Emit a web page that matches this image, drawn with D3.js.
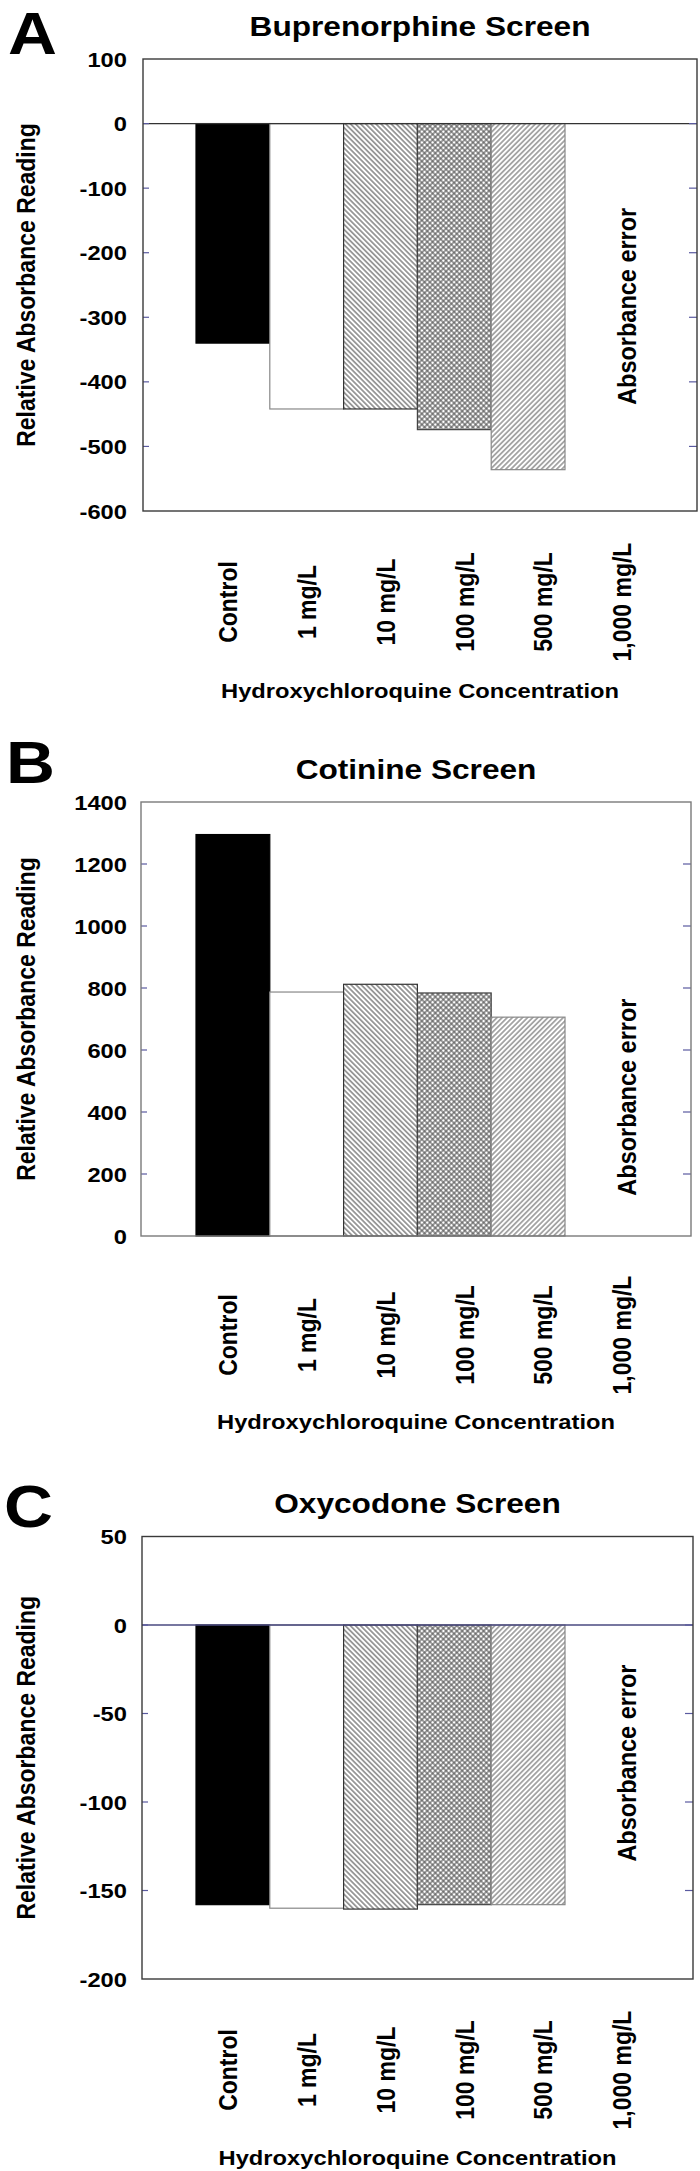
<!DOCTYPE html>
<html><head><meta charset="utf-8">
<script src="https://cdn.jsdelivr.net/npm/d3@7"></script>
<style>
body{margin:0;background:#fff}
svg{display:block}
text{font-family:"Liberation Sans",Arial,sans-serif;font-weight:bold;fill:#000}
</style>
</head><body><div id="chart"></div>
<script>
// ---------- data ----------
const categories = ["Control", "1 mg/L", "10 mg/L", "100 mg/L", "500 mg/L", "1,000 mg/L"];
const buprenorphineValues = [-340, -442, -442, -474, -536, null];
const cotinineValues = [1295, 787, 812, 784, 706, null];
const oxycodoneValues = [-158, -160, -160.5, -158, -158, null];
const buprenorphineTicks = [100, 0, -100, -200, -300, -400, -500, -600];
const cotinineTicks = [1400, 1200, 1000, 800, 600, 400, 200, 0];
const oxycodoneTicks = [50, 0, -50, -100, -150, -200];
const panelLetters = ["A", "B", "C"];
const panelTitles = ["Buprenorphine Screen", "Cotinine Screen", "Oxycodone Screen"];
const yAxisTitle = "Relative Absorbance Reading";
const xAxisTitle = "Hydroxychloroquine Concentration";
const errorNote = "Absorbance error";
const errorCategory = "1,000 mg/L";

// ---------- layout / style ----------
const W = 700, H = 2171, SX = 1.13;
const panels = [
  {letter: panelLetters[0], title: panelTitles[0], values: buprenorphineValues, ticks: buprenorphineTicks,
   top: 59, bottom: 511, left: 143, right: 697, letterBase: 54, letterX: 8, errAt: -283,
   labelOff: 91, xTitleOff: 187, titleBase: 36, border: "#3a3a3a", zero: "#333"},
  {letter: panelLetters[1], title: panelTitles[1], values: cotinineValues, ticks: cotinineTicks,
   top: 802, bottom: 1236, left: 141, right: 691, letterBase: 783, letterX: 6, errAt: 448,
   labelOff: 99, xTitleOff: 193, titleBase: 779, border: "#7a7a7a", zero: null},
  {letter: panelLetters[2], title: panelTitles[2], values: oxycodoneValues, ticks: oxycodoneTicks,
   top: 1536.5, bottom: 1979, left: 142, right: 693, letterBase: 1527, letterX: 4, errAt: -78,
   labelOff: 91, xTitleOff: 186, titleBase: 1513, border: "#3a3a3a", zero: "#4a4a80"}
];
const barStyles = [
  {fill: "#000", stroke: "#000"},
  {fill: "#fff", stroke: "#888"},
  {fill: "url(#hatchB)", stroke: "#333"},
  {fill: "url(#cross)", stroke: "#444"},
  {fill: "url(#hatchF)", stroke: "#888"},
  {fill: "none", stroke: "none"}
];
const tickColor = "#5a5aa0";

const svg = d3.select("#chart").append("svg").attr("width", W).attr("height", H);
svg.append("rect").attr("width", W).attr("height", H).attr("fill", "#fff");

// patterns
const defs = svg.append("defs");
function hatch(id, angle, color, size) {
  const p = defs.append("pattern").attr("id", id).attr("patternUnits", "userSpaceOnUse")
    .attr("width", size).attr("height", size).attr("patternTransform", `rotate(${angle})`);
  p.append("rect").attr("width", size).attr("height", size).attr("fill", "#fff");
  p.append("line").attr("x1", size / 2).attr("x2", size / 2).attr("y1", 0).attr("y2", size)
    .attr("stroke", color).attr("stroke-width", 1.1);
  return p;
}
hatch("hatchB", -45, "#555", 3.6);
hatch("hatchF", 45, "#6a6a6a", 3.6);
const cp = defs.append("pattern").attr("id", "cross").attr("patternUnits", "userSpaceOnUse")
  .attr("width", 3.8).attr("height", 3.8).attr("patternTransform", "rotate(45)");
cp.append("rect").attr("width", 3.8).attr("height", 3.8).attr("fill", "#fff");
cp.append("line").attr("x1", 1.9).attr("x2", 1.9).attr("y1", 0).attr("y2", 3.8).attr("stroke", "#555").attr("stroke-width", 1.1);
cp.append("line").attr("y1", 1.9).attr("y2", 1.9).attr("x1", 0).attr("x2", 3.8).attr("stroke", "#555").attr("stroke-width", 1.1);

function stext(g, x, y, str, size, anchor, rotate) {
  return g.append("text")
    .attr("transform", `translate(${x},${y}) scale(${SX},1)` + (rotate ? " rotate(-90)" : ""))
    .attr("font-size", size).attr("text-anchor", anchor).attr("dy", rotate ? "0.35em" : null).text(str);
}

const x = d3.scaleBand().domain(categories).range([196, 196 + 6 * 73.8]).padding(0);
const xl = d3.scalePoint().domain(categories).range([228, 622]);

panels.forEach(P => {
  const g = svg.append("g");
  const dom = d3.extent(P.ticks);
  const y = d3.scaleLinear().domain(dom).range([P.bottom, P.top]);
  const cx = (P.left + P.right) / 2;

  // letter and title
  stext(g, P.letterX, P.letterBase, P.letter, 60, "start", false);
  stext(g, cx, P.titleBase, P.title, 28, "middle", false);

  // bars
  const data = categories.map((c, i) => ({c, i, v: P.values[i]})).filter(d => d.v != null);
  g.selectAll("rect.bar").data(data).join("rect").attr("class", "bar")
    .attr("x", d => x(d.c)).attr("width", x.bandwidth())
    .attr("y", d => Math.min(y(0), y(d.v))).attr("height", d => Math.abs(y(d.v) - y(0)))
    .attr("fill", d => barStyles[d.i].fill).attr("stroke", d => barStyles[d.i].stroke).attr("stroke-width", 1.2);

  // zero line
  if (P.zero) {
    g.append("line").attr("x1", P.left).attr("x2", P.right).attr("y1", y(0)).attr("y2", y(0))
      .attr("stroke", P.zero).attr("stroke-width", 1.3);
  }

  // ticks inside both borders
  const inner = P.ticks.filter(t => t !== dom[0] && t !== dom[1]);
  g.selectAll("line.tl").data(inner).join("line").attr("class", "tl")
    .attr("x1", P.left).attr("x2", P.left + 6).attr("y1", d => y(d)).attr("y2", d => y(d))
    .attr("stroke", tickColor).attr("stroke-width", 1.2);
  g.selectAll("line.tr").data(inner).join("line").attr("class", "tr")
    .attr("x1", P.right - 8).attr("x2", P.right).attr("y1", d => y(d)).attr("y2", d => y(d))
    .attr("stroke", tickColor).attr("stroke-width", 1.2);

  // frame
  g.append("rect").attr("x", P.left).attr("y", P.top).attr("width", P.right - P.left).attr("height", P.bottom - P.top)
    .attr("fill", "none").attr("stroke", P.border).attr("stroke-width", 1.4);

  // y tick labels
  P.ticks.forEach(t => {
    stext(g, 127, y(t), String(t), 21, "end", false).attr("dy", "0.36em");
  });

  // y axis title
  stext(g, 26, (P.top + P.bottom) / 2, yAxisTitle, 23, "middle", true);

  // category labels
  categories.forEach(c => {
    stext(g, xl(c), P.bottom + P.labelOff, c, 23, "middle", true);
  });

  // x axis title
  stext(g, cx, P.bottom + P.xTitleOff, xAxisTitle, 21, "middle", false);

  // absorbance error note
  stext(g, xl(errorCategory) + 5, y(P.errAt), errorNote, 23.5, "middle", true);
});
</script>
</body></html>
